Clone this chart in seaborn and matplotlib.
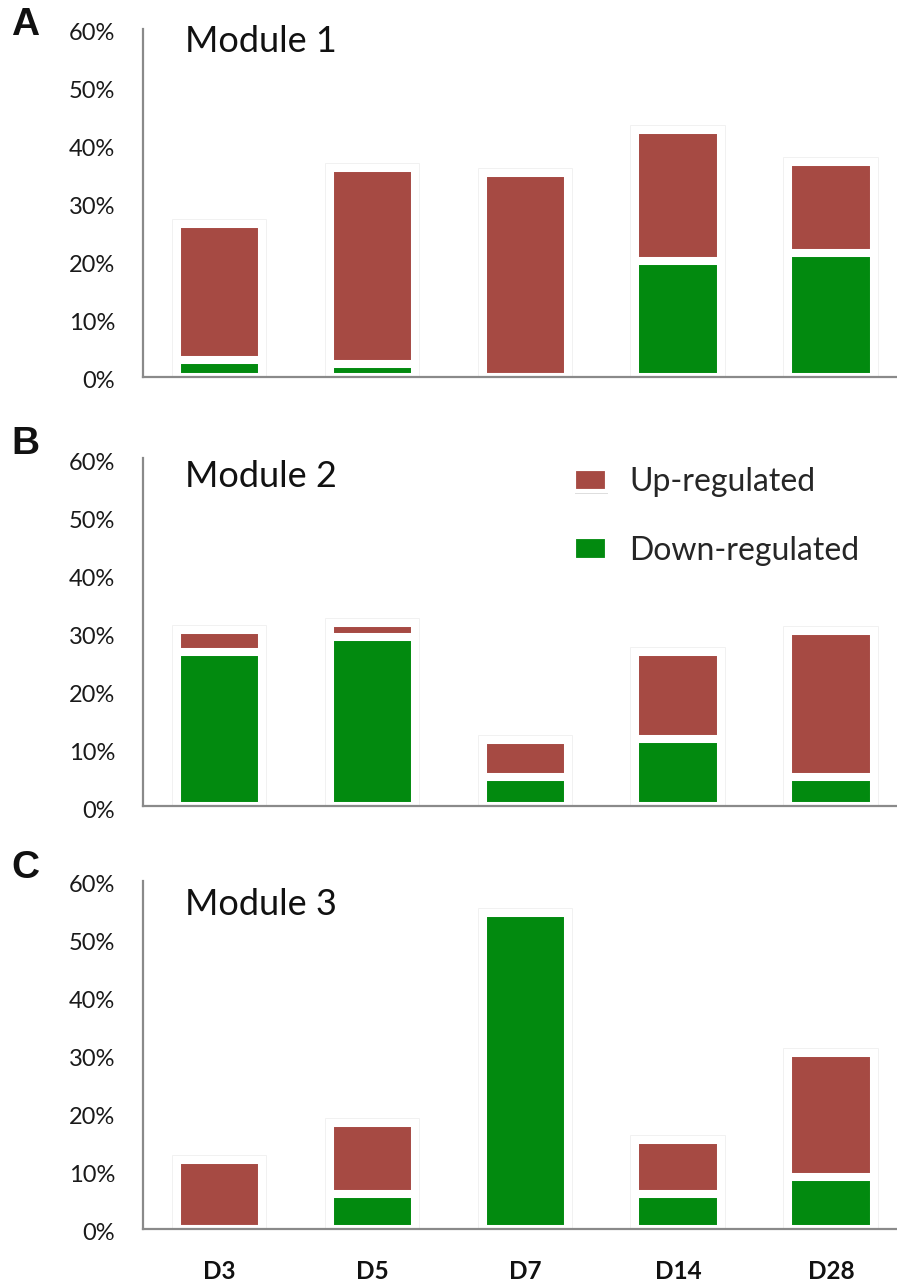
import matplotlib
matplotlib.use("Agg")
import matplotlib.pyplot as plt
import matplotlib.patheffects as pe
from matplotlib.patches import Patch
from matplotlib.ticker import PercentFormatter, MultipleLocator
from matplotlib.transforms import ScaledTranslation
import seaborn as sns

# Share of module genes changed at each time point (%)
days = ["D3", "D5", "D7", "D14", "D28"]
module_names = ["Module 1", "Module 2", "Module 3"]
panel_letters = ["A", "B", "C"]

mod1_down = [2.9, 2.2, 0.0, 20.0, 21.3]
mod1_up = [23.5, 33.8, 35.1, 22.6, 15.8]
mod2_down = [26.6, 29.1, 5.0, 11.5, 5.0]
mod2_up = [3.7, 2.5, 6.4, 15.1, 25.2]
mod3_down = [0.0, 6.1, 54.5, 6.1, 9.0]
mod3_up = [11.9, 12.2, 0.0, 9.2, 21.3]

legend_labels = ["Up-regulated", "Down-regulated"]

UP_COLOR = "#A64A43"
DOWN_COLOR = "#028A0F"
AXIS_GRAY = "#8a8a8a"

sns.set_style("white")
plt.rcParams["font.family"] = ["Lato", "DejaVu Sans"]

W, H = 897, 1284
fig = plt.figure(figsize=(W / 100, H / 100), dpi=100)

# axes boxes in pixels: (left, top, right, bottom)
boxes = [(143, 29, 897, 377), (143, 458, 897, 806), (143, 881, 897, 1229)]
title_y = [0.934, 0.917, 0.902]
letter_y = [25, 444, 868]

downs = [mod1_down, mod2_down, mod3_down]
ups = [mod1_up, mod2_up, mod3_up]

bar_kw = dict(width=0.56, edgecolor="white", linewidth=5.8, saturation=1,
              errorbar=None)
shadow = [pe.withStroke(linewidth=7.0, foreground="#efefef"), pe.Normal()]

axes = []
for i in range(3):
    l, t, r, b = boxes[i]
    ax = fig.add_axes([l / W, 1 - b / H, (r - l) / W, (b - t) / H])
    axes.append(ax)
    totals = [d + u for d, u in zip(downs[i], ups[i])]

    sns.barplot(x=days, y=totals, color=UP_COLOR, ax=ax, **bar_kw)
    n_up = len(ax.patches)
    sns.barplot(x=days, y=downs[i], color=DOWN_COLOR, ax=ax, **bar_kw)
    for p in ax.patches[:n_up]:
        p.set_path_effects(shadow)

    ax.set_ylim(0, 60)
    ax.set_xlim(-0.5, 4.43)
    ax.yaxis.set_major_locator(MultipleLocator(10))
    ax.yaxis.set_major_formatter(PercentFormatter(decimals=0))
    ax.tick_params(axis="y", length=0, pad=20, labelsize=17, labelcolor="#1a1a1a")
    ax.tick_params(axis="x", length=0, pad=22, labelsize=17.5, labelcolor="#111111")
    for lab in ax.get_yticklabels():
        lab.set_transform(lab.get_transform() + ScaledTranslation(0, -3 / 100, fig.dpi_scale_trans))
    for lab in ax.get_xticklabels():
        lab.set_fontweight("bold")
    if i < 2:
        ax.set_xticklabels([])

    sns.despine(ax=ax, top=True, right=True)
    for side in ("left", "bottom"):
        ax.spines[side].set_color(AXIS_GRAY)
        ax.spines[side].set_linewidth(1.6)
        ax.spines[side].set_zorder(5)

    ax.set_xlabel("")
    ax.set_ylabel("")

    ax.text(0.056, title_y[i], module_names[i], transform=ax.transAxes,
            fontsize=26, va="baseline", ha="left", color="#111111")
    fig.text(11 / W, 1 - letter_y[i] / H, panel_letters[i],
             fontsize=28, fontweight="bold", family=["Liberation Sans", "DejaVu Sans"],
             va="center", ha="left", color="#111111")

handles = [Patch(facecolor=UP_COLOR, edgecolor="white", linewidth=3),
           Patch(facecolor=DOWN_COLOR, edgecolor="white", linewidth=3)]
leg = axes[1].legend(handles, legend_labels, loc="center left",
                     bbox_to_anchor=(0.571, 0.832), frameon=False, fontsize=23,
                     handlelength=1.05, handleheight=0.7, handletextpad=0.7,
                     labelspacing=1.2, borderpad=0, borderaxespad=0)
for h in leg.legend_handles:
    h.set_path_effects([pe.SimplePatchShadow(offset=(1, -2), shadow_rgbFace="#bbbbbb", alpha=0.5),
                        pe.Normal()])

fig.savefig("out.png", dpi=100, facecolor="white")
